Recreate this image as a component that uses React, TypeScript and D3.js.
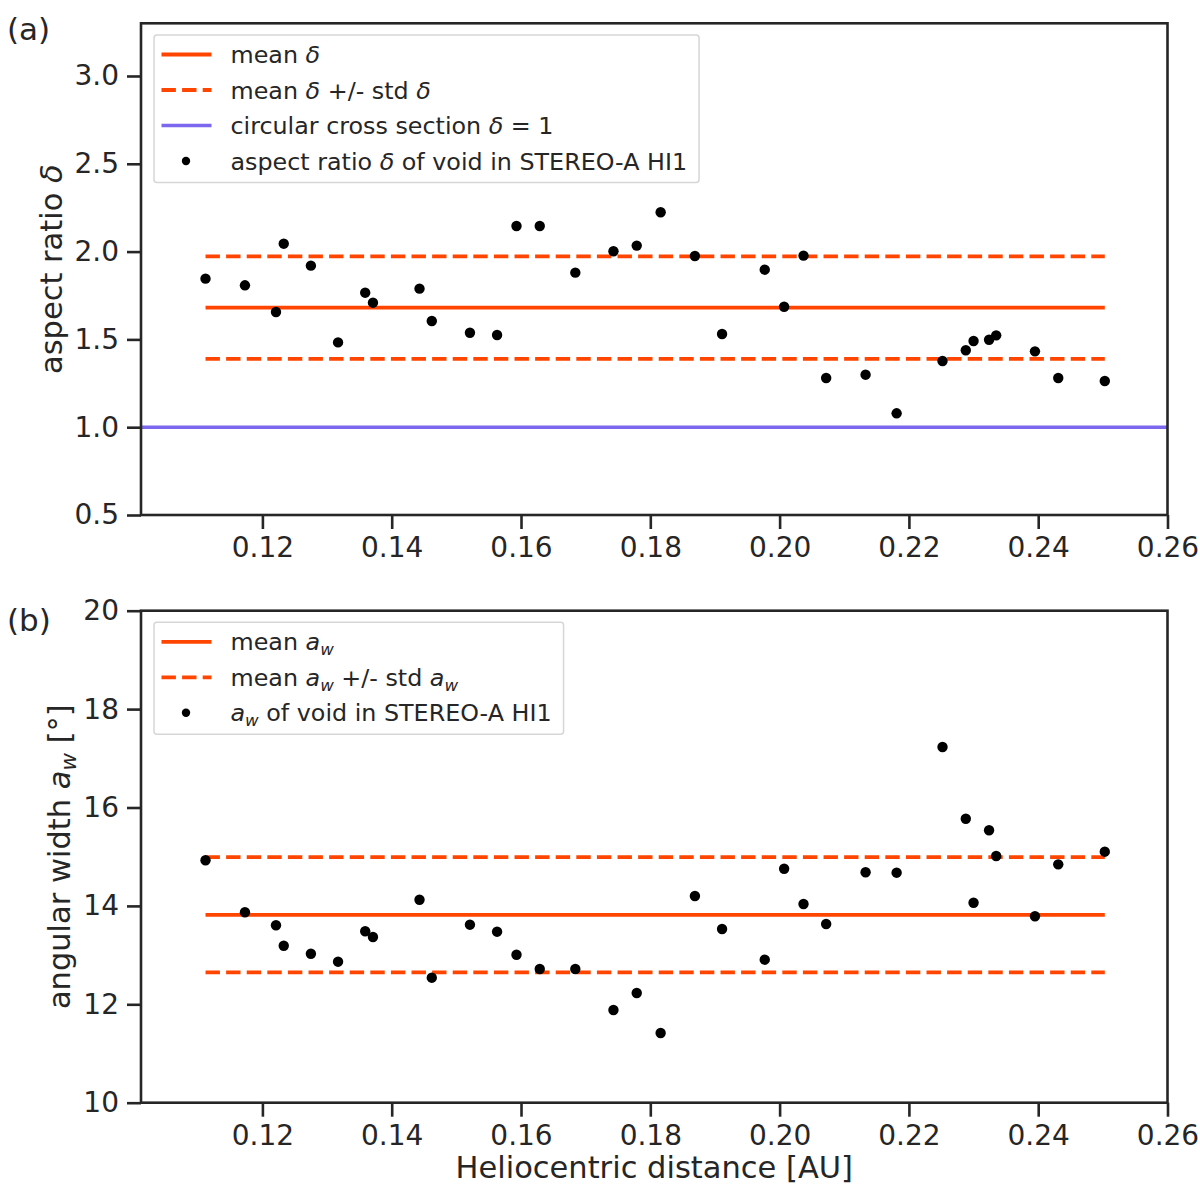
import { useEffect, useRef } from 'react'
import * as d3 from 'd3'

// heliocentric distance of every void measurement [AU]
const distance = [
  0.1112, 0.1173, 0.1221, 0.1233, 0.1275, 0.1317, 0.1359, 0.1371, 0.1443, 0.1462,
  0.1521, 0.1563, 0.1593, 0.1629, 0.1684, 0.1743, 0.1779, 0.1816, 0.1869, 0.1911,
  0.1977, 0.2007, 0.2037, 0.2072, 0.2133, 0.2181, 0.2252, 0.2288, 0.23, 0.2324,
  0.2335, 0.2395, 0.2431, 0.2503,
]

// aspect ratio delta (panel a)
const aspectRatio = [
  1.846, 1.808, 1.656, 2.045, 1.92, 1.483, 1.766, 1.709, 1.789, 1.605,
  1.538, 1.525, 2.146, 2.146, 1.88, 2.002, 2.034, 2.224, 1.975, 1.531,
  1.897, 1.686, 1.977, 1.28, 1.299, 1.079, 1.377, 1.438, 1.491, 1.498,
  1.523, 1.432, 1.28, 1.263,
]

// angular width a_w in degrees (panel b)
const angularWidth = [
  14.927, 13.87, 13.606, 13.191, 13.028, 12.866, 13.484, 13.368, 14.126, 12.541,
  13.618, 13.476, 13.008, 12.717, 12.717, 11.884, 12.23, 11.417, 14.201, 13.53,
  12.907, 14.756, 14.038, 13.632, 14.683, 14.675, 17.229, 15.772, 14.065, 15.537,
  15.014, 13.789, 14.845, 15.102,
]

const xTicks = [0.12, 0.14, 0.16, 0.18, 0.2, 0.22, 0.24, 0.26]
const aspectTicks = [0.5, 1.0, 1.5, 2.0, 2.5, 3.0]
const widthTicks = [10, 12, 14, 16, 18, 20]

const ORANGE = '#ff4500'
const PURPLE = '#7b68ee'
const INK = '#262626'
const FONT = '"DejaVu Sans", sans-serif'

type Seg = { t: string; i?: boolean; sub?: boolean }
type Entry = { kind: 'line' | 'dash' | 'dot'; color: string; label: Seg[] }

const delta: Seg = { t: 'δ', i: true }
const aw: Seg[] = [{ t: 'a', i: true }, { t: 'w', i: true, sub: true }]

// writes mathtext-like segments (italic symbols, subscripts) into a <text>
function rich(sel: any, segs: Seg[], size: number) {
  let shifted = 0
  segs.forEach((s) => {
    const sh = s.sub ? size * 0.2 : 0
    sel
      .append('tspan')
      .attr('font-style', s.i ? 'italic' : null)
      .attr('font-size', s.sub ? size * 0.7 : size)
      .attr('dy', sh - shifted)
      .text(s.t)
    shifted = sh
  })
}

function std(v: number[]) {
  const m = d3.mean(v) as number
  return Math.sqrt(d3.mean(v, (d) => (d - m) ** 2) as number)
}

export default function App() {
  const svgRef = useRef<SVGSVGElement>(null)

  useEffect(() => {
    if (!svgRef.current) return
    const svg = d3.select(svgRef.current)
    svg.selectAll('*').remove()

    const width = 1200
    const height = 1198
    const left = 141
    const right = 1167.5
    svg.attr('width', width).attr('height', height).style('font-family', FONT)

    svg.append('rect').attr('width', width).attr('height', height).attr('fill', '#fff')

    const x = d3.scaleLinear().domain([0.10122, 0.26]).range([left, right])
    const xMin = d3.min(distance) as number
    const xMax = d3.max(distance) as number

    const panels = [
      {
        top: 23.3,
        bottom: 515,
        domain: [0.5, 3.3],
        ticks: aspectTicks,
        fmt: d3.format('.1f'),
        values: aspectRatio,
        tag: '(a)',
        tagY: 40,
        ylabel: [{ t: 'aspect ratio ' }, delta] as Seg[],
        ylabelX: 62,
        reference: 1,
        legendTop: 35,
        legend: [
          { kind: 'line', color: ORANGE, label: [{ t: 'mean ' }, delta] },
          { kind: 'dash', color: ORANGE, label: [{ t: 'mean ' }, delta, { t: ' +/- std ' }, delta] },
          { kind: 'line', color: PURPLE, label: [{ t: 'circular cross section ' }, delta, { t: ' = 1' }] },
          { kind: 'dot', color: '#000', label: [{ t: 'aspect ratio ' }, delta, { t: ' of void in STEREO-A HI1' }] },
        ] as Entry[],
      },
      {
        top: 610.7,
        bottom: 1102.7,
        domain: [10, 20],
        ticks: widthTicks,
        fmt: d3.format('d'),
        values: angularWidth,
        tag: '(b)',
        tagY: 631,
        ylabel: [{ t: 'angular width ' }, ...aw, { t: ' [°]' }] as Seg[],
        ylabelX: 70,
        reference: null,
        legendTop: 622.3,
        legend: [
          { kind: 'line', color: ORANGE, label: [{ t: 'mean ' }, ...aw] },
          { kind: 'dash', color: ORANGE, label: [{ t: 'mean ' }, ...aw, { t: ' +/- std ' }, ...aw] },
          { kind: 'dot', color: '#000', label: [...aw, { t: ' of void in STEREO-A HI1' }] },
        ] as Entry[],
      },
    ]

    panels.forEach((p) => {
      const y = d3.scaleLinear().domain(p.domain).range([p.bottom, p.top])
      const g = svg.append('g')

      const m = d3.mean(p.values) as number
      const s = std(p.values)

      // reference line delta = 1 spans the whole axis
      if (p.reference !== null) {
        g.append('line')
          .attr('x1', left)
          .attr('x2', right)
          .attr('y1', y(p.reference))
          .attr('y2', y(p.reference))
          .attr('stroke', PURPLE)
          .attr('stroke-width', 3.5)
      }

      // mean and mean +/- std
      ;[m - s, m + s].forEach((v) => {
        g.append('line')
          .attr('x1', x(xMin))
          .attr('x2', x(xMax))
          .attr('y1', y(v))
          .attr('y2', y(v))
          .attr('stroke', ORANGE)
          .attr('stroke-width', 3.8)
          .attr('stroke-dasharray', '14.4 6.2')
      })
      g.append('line')
        .attr('x1', x(xMin))
        .attr('x2', x(xMax))
        .attr('y1', y(m))
        .attr('y2', y(m))
        .attr('stroke', ORANGE)
        .attr('stroke-width', 3.8)

      g.selectAll('circle.pt')
        .data(p.values)
        .join('circle')
        .attr('class', 'pt')
        .attr('cx', (_, i) => x(distance[i]))
        .attr('cy', (d) => y(d))
        .attr('r', 5.2)
        .attr('fill', '#000')

      // frame
      g.append('rect')
        .attr('x', left)
        .attr('y', p.top)
        .attr('width', right - left)
        .attr('height', p.bottom - p.top)
        .attr('fill', 'none')
        .attr('stroke', INK)
        .attr('stroke-width', 2.6)

      // x axis
      const xAxis = g
        .append('g')
        .attr('transform', `translate(0,${p.bottom})`)
        .call(d3.axisBottom(x).tickValues(xTicks).tickFormat(d3.format('.2f')).tickSize(14).tickPadding(8))
      // y axis
      const yAxis = g
        .append('g')
        .attr('transform', `translate(${left},0)`)
        .call(d3.axisLeft(y).tickValues(p.ticks).tickFormat(p.fmt as any).tickSize(14).tickPadding(8))
      ;[xAxis, yAxis].forEach((ax) => {
        ax.select('.domain').remove()
        ax.selectAll('line').attr('stroke', INK).attr('stroke-width', 2.6)
        ax.selectAll('text').attr('fill', INK).attr('font-size', 28).attr('font-family', FONT)
      })

      // panel tag
      svg.append('text')
        .attr('x', 7)
        .attr('y', p.tagY)
        .attr('font-size', 31)
        .attr('fill', INK)
        .text(p.tag)

      // y label
      const yl = svg
        .append('text')
        .attr('transform', `translate(${p.ylabelX},${(p.top + p.bottom) / 2}) rotate(-90)`)
        .attr('text-anchor', 'middle')
        .attr('fill', INK)
        .style('white-space', 'pre')
      rich(yl, p.ylabel, 30.5)

      // legend
      const lg = svg.append('g')
      const box = lg.append('rect')
      const legLeft = 154
      const rowGap = 35.5
      const textX = 230.5
      let maxLen = 0
      p.legend.forEach((e, i) => {
        const cy = p.legendTop + 19.5 + i * rowGap
        if (e.kind === 'dot') {
          lg.append('circle').attr('cx', 186).attr('cy', cy).attr('r', 4.2).attr('fill', e.color)
        } else {
          lg.append('line')
            .attr('x1', 161.5)
            .attr('x2', 211.5)
            .attr('y1', cy)
            .attr('y2', cy)
            .attr('stroke', e.color)
            .attr('stroke-width', e.color === PURPLE ? 3.5 : 3.8)
            .attr('stroke-dasharray', e.kind === 'dash' ? '14.4 6.2' : null)
        }
        const t = lg
          .append('text')
          .attr('x', textX)
          .attr('y', cy + 8.5)
          .attr('fill', INK)
          .style('white-space', 'pre')
        rich(t, e.label, 23.8)
        maxLen = Math.max(maxLen, (t.node() as SVGTextElement).getComputedTextLength())
      })
      box
        .attr('x', legLeft)
        .attr('y', p.legendTop)
        .attr('width', textX - legLeft + maxLen + 12)
        .attr('height', 41 + (p.legend.length - 1) * rowGap)
        .attr('rx', 3)
        .attr('fill', '#fff')
        .attr('fill-opacity', 0.8)
        .attr('stroke', '#d6d6d6')
        .attr('stroke-width', 1.5)
    })

    // x label
    svg.append('text')
      .attr('x', (left + right) / 2)
      .attr('y', 1178)
      .attr('text-anchor', 'middle')
      .attr('font-size', 30.5)
      .attr('fill', INK)
      .text('Heliocentric distance [AU]')
  }, [])

  return (
    <div style={{ position: 'absolute', left: 0, top: 0 }}>
      <svg ref={svgRef}></svg>
    </div>
  )
}
